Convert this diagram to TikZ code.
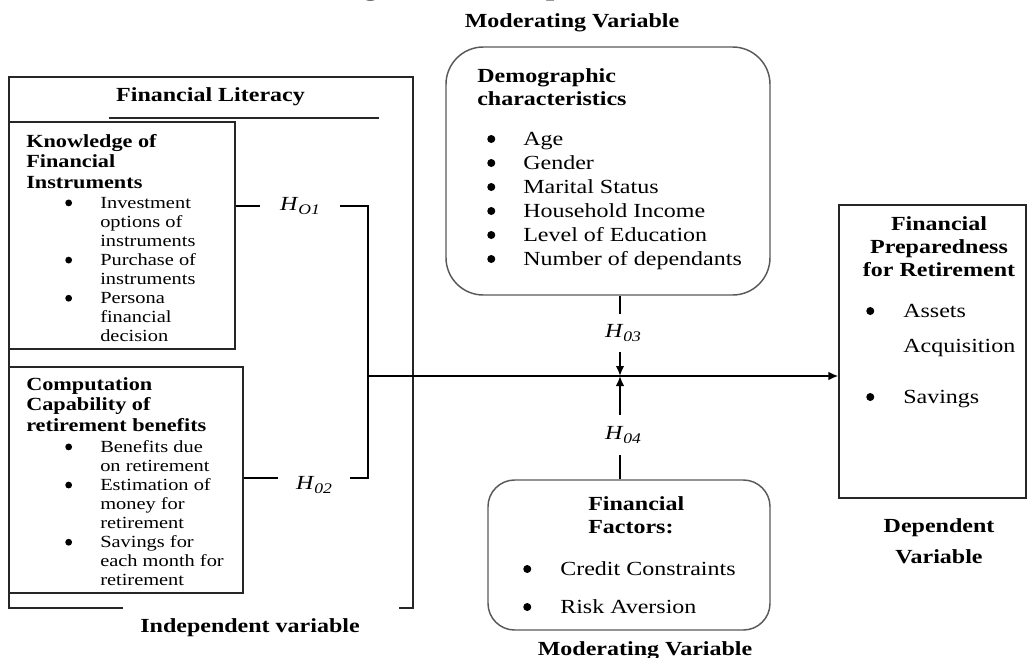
\documentclass[tikz,border=0pt]{standalone}
\usepackage{fontspec}
\setmainfont{Liberation Serif}[FakeStretch=1.2]
\usetikzlibrary{arrows.meta,fit}
\newcommand{\bdot}{\tikz[baseline=0pt]\fill[black] (0.2em,0.3em) circle (0.2em);}
\newcommand{\bux}[1]{\makebox[#1][l]{\bdot}}
\newcommand{\bsp}[1]{\hspace*{#1}}
\newcommand{\hsub}[1]{\textit{H}\raisebox{-0.2em}{\fontsize{11}{12}\selectfont\itshape #1}}
\begin{document}
\begin{tikzpicture}[x=0.75pt,y=-0.75pt,
  txt/.style={inner sep=0pt, anchor=base west},
  ctxt/.style={inner sep=0pt, anchor=base},
  box/.style={draw=black!85, line width=0.9pt, inner sep=0pt},
  rbox/.style={draw=black!65, line width=1.1pt, inner sep=0pt},
  conn/.style={line width=2.1pt},
  mainln/.style={line width=1.4pt},
  arr/.style={-{Latex[length=7.5pt,width=6.5pt]}},
  hlab/.style={inner sep=0pt, font=\fontsize{15}{18}\selectfont},
  fA/.style={font=\fontsize{15}{18}\selectfont},
  fB/.style={font=\fontsize{15}{17.25}\selectfont\bfseries},
  fLH/.style={font=\fontsize{13.9}{15.4}\selectfont\bfseries},
  fLI/.style={font=\fontsize{12.75}{14.3}\selectfont}
]
\useasboundingbox (0,0) rectangle (1027,657);
\clip (0,0) rectangle (1027,657);

% title (cropped at the top edge)
\node[txt, font=\fontsize{19}{23}\selectfont\bfseries] (title) at (336,-5) {Figure 1: Conceptual Framework};

% top moderating label
\node[ctxt, fB] (modtop) at (572,27) {Moderating Variable};

% ---------- Independent variable frame ----------
\draw[box] (123,608) -- (9,608) -- (9,77) -- (413,77) -- (413,608) -- (399,608);
\node[ctxt, fB] (fl) at (210.5,101.7) {Financial Literacy};
\draw[box] (109,118) -- (379,118);

\node[box, fit={(9,122) (235,349)}] (kb) {};
\node[txt, fLH] (kbh) at (26,147) {\begin{tabular}[t]{@{}l@{}}Knowledge of\\Financial\\Instruments\end{tabular}};
\node[txt, fLI] (kbi) at (65,208) {\begin{tabular}[t]{@{}l@{}}
\bux{26.25pt}Investment\\ \bsp{26.25pt}options of\\ \bsp{26.25pt}instruments\\
\bux{26.25pt}Purchase of\\ \bsp{26.25pt}instruments\\
\bux{26.25pt}Persona\\ \bsp{26.25pt}financial\\ \bsp{26.25pt}decision\end{tabular}};

\node[box, fit={(9,367) (243,593)}] (cb) {};
\node[txt, fLH] (cbh) at (26,390) {\begin{tabular}[t]{@{}l@{}}Computation\\Capability of\\retirement benefits\end{tabular}};
\node[txt, fLI] (cbi) at (65,452) {\begin{tabular}[t]{@{}l@{}}
\bux{26.25pt}Benefits due\\ \bsp{26.25pt}on retirement\\
\bux{26.25pt}Estimation of\\ \bsp{26.25pt}money for\\ \bsp{26.25pt}retirement\\
\bux{26.25pt}Savings for\\ \bsp{26.25pt}each month for\\ \bsp{26.25pt}retirement\end{tabular}};

\node[ctxt, fB] (indep) at (250,632) {Independent variable};

% ---------- Demographic (moderating) ----------
\node[rbox, rounded corners=28pt, fit={(446,47) (770,295)}] (dm) {};
\node[txt, fB] (dmh) at (477,82) {\begin{tabular}[t]{@{}l@{}}Demographic\\characteristics\end{tabular}};
\node[txt, fA] (dmi) at (487,145) {\begin{tabular}[t]{@{}l@{}}
\bux{27pt}Age\\ \bux{27pt}Gender\\ \bux{27pt}Marital Status\\
\bux{27pt}Household Income\\ \bux{27pt}Level of Education\\ \bux{27pt}Number of dependants\end{tabular}};

% ---------- Financial factors (moderating) ----------
\node[rbox, rounded corners=20pt, fit={(488,480) (770,630)}] (ff) {};
\node[txt, fB] (ffh) at (588,510) {\begin{tabular}[t]{@{}l@{}}Financial\\Factors:\end{tabular}};
\node[txt, fA] (ff1) at (523,575) {\bux{27.75pt}Credit Constraints};
\node[txt, fA] (ff2) at (523,613) {\bux{27.75pt}Risk Aversion};
\node[ctxt, fB] (modbot) at (645,655) {Moderating Variable};

% ---------- Dependent ----------
\node[box, fit={(839,205) (1026,498)}] (fp) {};
\node[ctxt, font=\fontsize{15}{17.6}\selectfont\bfseries] (fph) at (939,230) {\begin{tabular}[t]{@{}c@{}}Financial\\Preparedness\\for Retirement\end{tabular}};
\node[txt, fA] (fp1) at (866,317) {\bux{27.75pt}Assets};
\node[txt, fA] (fp2) at (903,352) {Acquisition};
\node[txt, fA] (fp3) at (866,403) {\bux{27.75pt}Savings};
\node[ctxt, font=\fontsize{15}{23.25}\selectfont\bfseries] (dep) at (939,532) {\begin{tabular}[t]{@{}c@{}}Dependent\\Variable\end{tabular}};

% ---------- hypotheses and connectors ----------
\coordinate (b1) at (368,206);
\coordinate (b2) at (368,478);
\coordinate (bm) at (368,376);
\coordinate (a3) at (620,376);

\node[hlab, minimum width=60pt] (h1) at (300,206) {\hsub{O1}};
\node[hlab, minimum width=54pt] (h2) at (314,485) {\hsub{02}};
\node[hlab, minimum height=27.75pt] (h3) at (623,333) {\hsub{03}};
\node[hlab, minimum height=30pt] (h4) at (623,435) {\hsub{04}};

\draw[conn] (kb.east |- b1) -- (b1 -| h1.west);
\draw[conn] (b1 -| h1.east) -- (b1) -- (b2) -- (b2 -| h2.east);
\draw[conn] (cb.east |- b2) -- (b2 -| h2.west);

\draw[mainln, arr] (bm) -- (fp.west |- bm);

\draw[conn] (a3 |- dm.south) -- (a3 |- h3.north);
\draw[conn, arr] (a3 |- h3.south) -- (a3);
\draw[conn] (a3 |- ff.north) -- (a3 |- h4.south);
\draw[conn, arr] (a3 |- h4.north) -- (a3);
\end{tikzpicture}
\end{document}
